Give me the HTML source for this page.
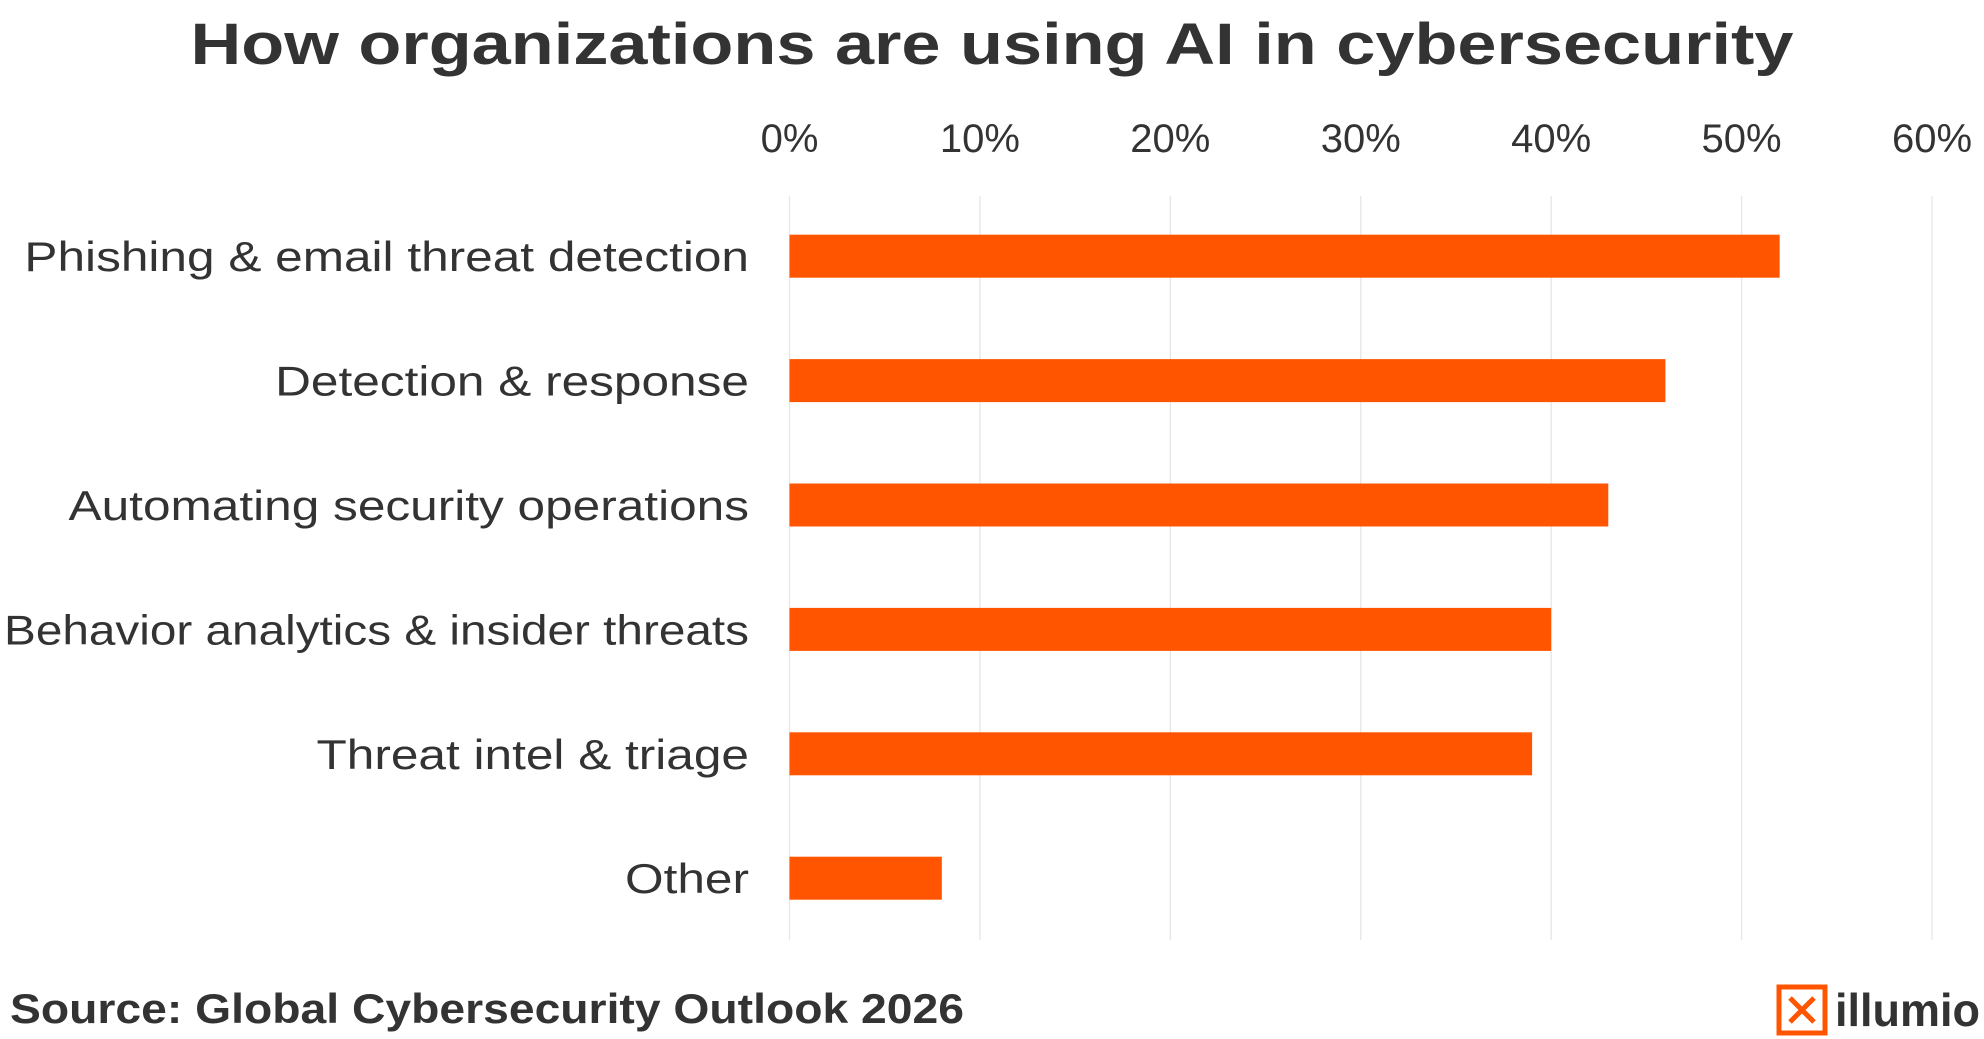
<!DOCTYPE html>
<html><head><meta charset="utf-8"><style>
html,body{margin:0;padding:0;background:#fff;}
svg{display:block;font-family:"Liberation Sans",sans-serif;}
</style></head><body>
<svg id="chart" width="1984" height="1039" viewBox="0 0 1984 1039" xmlns="http://www.w3.org/2000/svg">
<text x="992" y="64" text-anchor="middle" font-size="58" font-weight="bold" fill="#333" textLength="1603" lengthAdjust="spacingAndGlyphs">How organizations are using AI in cybersecurity</text>
<g id="grid"></g>
<g id="ticks"></g>
<g id="bars"></g>
<g id="labels"></g>
<text x="10" y="1023" font-size="42" font-weight="bold" fill="#333" textLength="954" lengthAdjust="spacingAndGlyphs">Source: Global Cybersecurity Outlook 2026</text>
<g>
<rect x="1779" y="987" width="46" height="46" fill="none" stroke="#ff5500" stroke-width="5"/>
<path d="M1790 998 L1814 1022 M1814 998 L1790 1022" stroke="#ff5500" stroke-width="5"/>
<text x="1835" y="1026" font-size="46" font-weight="bold" fill="#333" textLength="145" lengthAdjust="spacingAndGlyphs">illumio</text>
</g>
</svg>
<script>
const categories = ["Phishing & email threat detection","Detection & response","Automating security operations","Behavior analytics & insider threats","Threat intel & triage","Other"];
const values = [52,46,43,40,39,8];
const tickValues = [0,10,20,30,40,50,60];
const tickLabels = ["0%","10%","20%","30%","40%","50%","60%"];

const NS="http://www.w3.org/2000/svg";
const x0=789.5, x1=1932, xMax=60;
const xs=v=>x0+(x1-x0)*v/xMax;
const rowTop=194, rowH=124.4, barH=43;
const ys=i=>rowTop+rowH*(i+0.5);
function mk(tag,attrs,parent){const e=document.createElementNS(NS,tag);for(const k in attrs)e.setAttribute(k,attrs[k]);parent.appendChild(e);return e;}
const grid=document.getElementById('grid'),ticks=document.getElementById('ticks'),bars=document.getElementById('bars'),labels=document.getElementById('labels');
tickValues.forEach((t,i)=>{
  const l=mk('line',{x1:xs(t),x2:xs(t),y1:196,y2:940,stroke:'#e6e6e6','stroke-width':1.3},grid);
  
  
  const tx=mk('text',{x:xs(t),y:152,'text-anchor':'middle','font-size':40,fill:'#333'},ticks);
  tx.textContent=tickLabels[i];
  
  
});
categories.forEach((c,i)=>{
  const r=mk('rect',{x:x0,y:ys(i)-barH/2,width:xs(values[i])-x0,height:barH,fill:'#ff5500'},bars);
  
  
  const t=mk('text',{x:749,y:ys(i)+15,'text-anchor':'end','font-size':42,fill:'#333'},labels);
  t.textContent=c;
  
  
  const w=t.getComputedTextLength();
  t.setAttribute('textLength',Math.min(w*1.18,745));
  t.setAttribute('lengthAdjust','spacingAndGlyphs');
});
</script>
</body></html>
